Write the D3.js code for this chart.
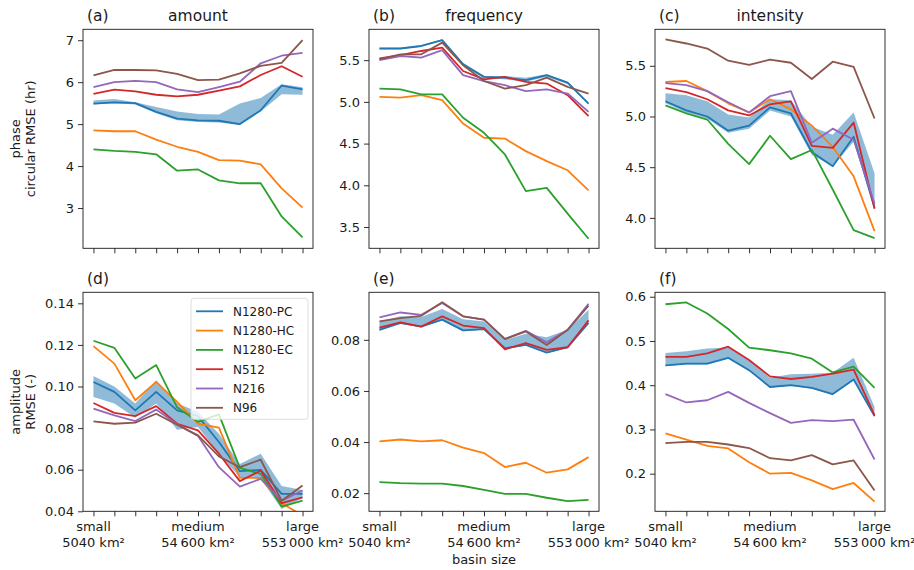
<!DOCTYPE html>
<html><head><meta charset="utf-8">
<script src="https://cdn.jsdelivr.net/npm/d3@7"></script>
<style>body{margin:0;background:#fff}svg{font-family:"DejaVu Sans",sans-serif}</style>
</head><body><svg id="c" width="914" height="570"></svg>
<script>
// ---------- data ----------
const xIndex = [0,1,2,3,4,5,6,7,8,9,10];
const xTickLabelPos = [0,5,10];
const xTickLabels = [["small","5040 km²"],["medium","54\u2009600 km²"],["large","553\u2009000 km²"]];
const seriesNames = ["N1280-PC","N1280-HC","N1280-EC","N512","N216","N96"];
const seriesColors = ["#1f77b4","#ff7f0e","#2ca02c","#d62728","#9467bd","#8c564b"];

// (a) phase - amount
const a_PC  = [5.49,5.52,5.50,5.29,5.13,5.09,5.08,5.00,5.33,5.92,5.83];
const a_HC  = [4.85,4.83,4.83,4.63,4.46,4.34,4.14,4.13,4.04,3.47,3.01];
const a_EC  = [4.40,4.36,4.34,4.28,3.89,3.92,3.66,3.59,3.59,2.80,2.30];
const a_512 = [5.72,5.82,5.78,5.70,5.66,5.70,5.80,5.90,6.17,6.38,6.13];
const a_216 = [5.88,6.00,6.03,6.00,5.83,5.76,5.88,6.01,6.45,6.63,6.70];
const a_96  = [6.16,6.29,6.29,6.28,6.20,6.05,6.06,6.21,6.39,6.46,7.00];
const a_lo  = [5.47,5.50,5.47,5.26,5.09,5.05,5.04,4.98,5.30,5.71,5.70];
const a_hi  = [5.56,5.60,5.52,5.41,5.30,5.24,5.23,5.49,5.62,5.95,5.88];
// (b) phase - frequency
const b_PC  = [5.64,5.64,5.67,5.74,5.45,5.30,5.29,5.26,5.32,5.23,4.98];
const b_HC  = [5.06,5.05,5.08,5.02,4.74,4.57,4.56,4.41,4.29,4.18,3.94];
const b_EC  = [5.16,5.15,5.09,5.09,4.81,4.63,4.37,3.93,3.97,3.66,3.36];
const b_512 = [5.52,5.56,5.61,5.65,5.37,5.27,5.30,5.24,5.22,5.08,4.83];
const b_216 = [5.50,5.55,5.53,5.62,5.32,5.25,5.20,5.13,5.15,5.10,4.88];
const b_96  = [5.51,5.57,5.57,5.71,5.44,5.25,5.16,5.20,5.29,5.18,5.10];
const b_lo  = [5.63,5.63,5.66,5.73,5.44,5.28,5.27,5.24,5.30,5.21,4.97];
const b_hi  = [5.65,5.65,5.68,5.75,5.47,5.31,5.31,5.29,5.33,5.24,4.99];
// (c) phase - intensity
const c_PC  = [5.15,5.06,5.00,4.86,4.91,5.09,5.03,4.65,4.51,4.80,4.10];
const c_HC  = [5.34,5.35,5.25,5.13,5.04,5.17,5.07,4.91,4.70,4.41,3.87];
const c_EC  = [5.11,5.03,4.97,4.73,4.53,4.81,4.58,4.67,4.28,3.88,3.80];
const c_512 = [5.28,5.24,5.17,5.06,5.01,5.12,5.15,4.71,4.69,4.94,4.09];
const c_216 = [5.33,5.31,5.25,5.14,5.04,5.20,5.25,4.74,4.88,4.77,4.14];
const c_96  = [5.76,5.72,5.67,5.55,5.51,5.56,5.53,5.37,5.54,5.49,4.98];
const c_lo  = [5.13,5.04,4.98,4.84,4.88,5.06,5.00,4.62,4.51,4.75,4.08];
const c_hi  = [5.23,5.21,5.15,5.02,4.99,5.17,5.16,4.90,4.82,5.04,4.44];
// (d) amplitude - amount
const d_PC  = [0.1022,0.0974,0.0885,0.0974,0.0885,0.0857,0.0733,0.0593,0.0599,0.0484,0.0484];
const d_HC  = [0.1194,0.1110,0.0934,0.1022,0.0926,0.0821,0.0802,0.0561,0.0561,0.0439,0.0380];
const d_EC  = [0.1220,0.1186,0.1038,0.1103,0.0900,0.0830,0.0866,0.0609,0.0580,0.0423,0.0451];
const d_512 = [0.0921,0.0873,0.0858,0.0906,0.0821,0.0789,0.0677,0.0545,0.0596,0.0439,0.0467];
const d_216 = [0.0894,0.0861,0.0834,0.0889,0.0818,0.0762,0.0612,0.0519,0.0556,0.0451,0.0500];
const d_96  = [0.0832,0.0821,0.0826,0.0869,0.0816,0.0765,0.0664,0.0612,0.0648,0.0451,0.0524];
const d_lo  = [0.0950,0.0918,0.0850,0.0918,0.0792,0.0805,0.0677,0.0564,0.0556,0.0411,0.0464];
const d_hi  = [0.1050,0.1000,0.0918,0.1030,0.0920,0.0878,0.0773,0.0628,0.0677,0.0522,0.0503];
// (e) amplitude - frequency
const e_PC  = [0.0839,0.0866,0.0852,0.0879,0.0837,0.0842,0.0767,0.0780,0.0750,0.0771,0.0866];
const e_HC  = [0.0403,0.0410,0.0403,0.0407,0.0378,0.0357,0.0302,0.0319,0.0280,0.0293,0.0341];
const e_EC  = [0.0243,0.0239,0.0237,0.0237,0.0228,0.0213,0.0197,0.0197,0.0182,0.0169,0.0174];
const e_512 = [0.0848,0.0868,0.0852,0.0892,0.0856,0.0846,0.0763,0.0787,0.0761,0.0771,0.0876];
const e_216 = [0.0888,0.0907,0.0898,0.0944,0.0892,0.0879,0.0804,0.0835,0.0790,0.0839,0.0941];
const e_96  = [0.0872,0.0885,0.0894,0.0947,0.0892,0.0879,0.0803,0.0833,0.0780,0.0839,0.0934];
const e_lo  = [0.0837,0.0862,0.0850,0.0876,0.0834,0.0839,0.0763,0.0779,0.0748,0.0767,0.0863];
const e_hi  = [0.0872,0.0892,0.0889,0.0921,0.0881,0.0872,0.0800,0.0824,0.0810,0.0839,0.0918];
// (f) amplitude - intensity
const f_PC  = [0.445,0.449,0.449,0.462,0.434,0.396,0.400,0.394,0.380,0.413,0.330];
const f_HC  = [0.291,0.277,0.263,0.257,0.226,0.200,0.202,0.185,0.165,0.179,0.137];
const f_EC  = [0.583,0.587,0.562,0.527,0.485,0.479,0.472,0.460,0.429,0.442,0.394];
const f_512 = [0.464,0.464,0.472,0.487,0.457,0.420,0.414,0.419,0.426,0.435,0.332];
const f_216 = [0.380,0.361,0.366,0.385,0.360,0.337,0.315,0.321,0.319,0.322,0.232];
const f_96  = [0.269,0.272,0.272,0.266,0.258,0.235,0.230,0.242,0.221,0.230,0.162];
const f_lo  = [0.443,0.447,0.447,0.460,0.432,0.395,0.398,0.392,0.378,0.411,0.328];
const f_hi  = [0.473,0.477,0.483,0.485,0.458,0.417,0.425,0.426,0.428,0.462,0.351];

// y-axis settings per panel
const yDomains = [[2.04,7.26],[3.245,5.87],[3.70,5.86],[0.04,0.1453],[0.0129,0.0986],[0.115,0.61]];
const yTicks = [[3,4,5,6,7],[3.5,4.0,4.5,5.0,5.5],[4.0,4.5,5.0,5.5],[0.04,0.06,0.08,0.10,0.12,0.14],[0.02,0.04,0.06,0.08],[0.2,0.3,0.4,0.5,0.6]];
const yFormats = [".0f",".1f",".1f",".2f",".2f",".1f"];
const panelLetters = ["(a)","(b)","(c)","(d)","(e)","(f)"];
const colTitles = ["amount","frequency","intensity"];
const rowLabels = [["phase","circular RMSE (hr)"],["amplitude","RMSE (-)"]];

const panels = [
  {series:[a_PC,a_HC,a_EC,a_512,a_216,a_96], lo:a_lo, hi:a_hi},
  {series:[b_PC,b_HC,b_EC,b_512,b_216,b_96], lo:b_lo, hi:b_hi},
  {series:[c_PC,c_HC,c_EC,c_512,c_216,c_96], lo:c_lo, hi:c_hi},
  {series:[d_PC,d_HC,d_EC,d_512,d_216,d_96], lo:d_lo, hi:d_hi},
  {series:[e_PC,e_HC,e_EC,e_512,e_216,e_96], lo:e_lo, hi:e_hi},
  {series:[f_PC,f_HC,f_EC,f_512,f_216,f_96], lo:f_lo, hi:f_hi},
];

// ---------- layout ----------
const svg = d3.select("#c");
const colLeft = [83,369,655], rowTop = [29.3,292.3];
const W = 230, H = 219;
const FS = 13, TFS = 15.5, LFS = 12;
const ink = "#1a1a1a";

panels.forEach((p,i)=>{
  const col = i%3, row = Math.floor(i/3);
  const g = svg.append("g").attr("transform",`translate(${colLeft[col]},${rowTop[row]})`);
  const x = d3.scaleLinear().domain([-0.5,10.5]).range([0,W]);
  const y = d3.scaleLinear().domain(yDomains[i]).range([H,0]);
  const cid = "clip"+i;
  g.append("clipPath").attr("id",cid).append("rect").attr("width",W).attr("height",H);
  const plot = g.append("g").attr("clip-path",`url(#${cid})`);

  const area = d3.area().x((d,k)=>x(xIndex[k])).y0((d,k)=>y(p.lo[k])).y1((d,k)=>y(p.hi[k]));
  plot.append("path").datum(p.lo).attr("d",area).attr("fill","#1f77b4").attr("fill-opacity",0.5);

  const line = d3.line().x((d,k)=>x(xIndex[k])).y(d=>y(d));
  p.series.forEach((s,j)=>{
    plot.append("path").datum(s).attr("d",line).attr("fill","none")
      .attr("stroke",seriesColors[j]).attr("stroke-width",1.8).attr("stroke-linejoin","round");
  });

  // axes
  const xa = g.append("g").attr("transform",`translate(0,${H})`)
    .call(d3.axisBottom(x).tickValues(xIndex).tickSize(5).tickFormat(""));
  const ya = g.append("g").call(d3.axisLeft(y).tickValues(yTicks[i]).tickSize(5).tickFormat(d3.format(yFormats[i])));
  [xa,ya].forEach(a=>{
    a.select(".domain").remove();
    a.selectAll("line").attr("stroke",ink).attr("stroke-width",0.9);
    a.selectAll("text").attr("fill",ink).attr("font-size",FS).attr("font-family","DejaVu Sans");
  });
  ya.selectAll("text").attr("x",-9);
  g.append("rect").attr("width",W).attr("height",H).attr("fill","none").attr("stroke",ink).attr("stroke-width",0.9);

  if(row===1){
    xTickLabelPos.forEach((v,k)=>{
      const t = g.append("text").attr("x",x(v)).attr("y",H+20).attr("text-anchor","middle")
        .attr("font-size",FS).attr("fill",ink);
      t.append("tspan").attr("x",x(v)).text(xTickLabels[k][0]);
      t.append("tspan").attr("x",x(v)).attr("dy",15.5).text(xTickLabels[k][1]);
    });
  }
  g.append("text").attr("x",4).attr("y",-8).attr("font-size",TFS).attr("fill",ink).text(panelLetters[i]);
  if(row===0){
    g.append("text").attr("x",W/2).attr("y",-8).attr("text-anchor","middle").attr("font-size",TFS).attr("fill",ink).text(colTitles[col]);
  }
  if(col===0){
    const t = g.append("text").attr("transform",`translate(-48,${H/2}) rotate(-90)`).attr("text-anchor","middle")
      .attr("font-size",FS).attr("fill",ink);
    t.append("tspan").attr("x",0).attr("y",-15).text(rowLabels[row][0]);
    t.append("tspan").attr("x",0).attr("y",0).text(rowLabels[row][1]);
  }
  if(i===4){
    g.append("text").attr("x",W/2).attr("y",H+53).attr("text-anchor","middle").attr("font-size",FS).attr("fill",ink).text("basin size");
  }
  if(i===3){
    const lg = g.append("g").attr("transform",`translate(108,6)`);
    lg.append("rect").attr("width",117).attr("height",121).attr("rx",3).attr("fill","#fff").attr("fill-opacity",0.8)
      .attr("stroke","#d9d9d9").attr("stroke-width",0.9);
    seriesNames.forEach((n,j)=>{
      const yy = 13 + j*19.3;
      lg.append("line").attr("x1",5).attr("x2",32).attr("y1",yy).attr("y2",yy).attr("stroke",seriesColors[j]).attr("stroke-width",1.8);
      lg.append("text").attr("x",42).attr("y",yy+4.5).attr("font-size",LFS).attr("fill",ink).text(n);
    });
  }
});
</script></body></html>
